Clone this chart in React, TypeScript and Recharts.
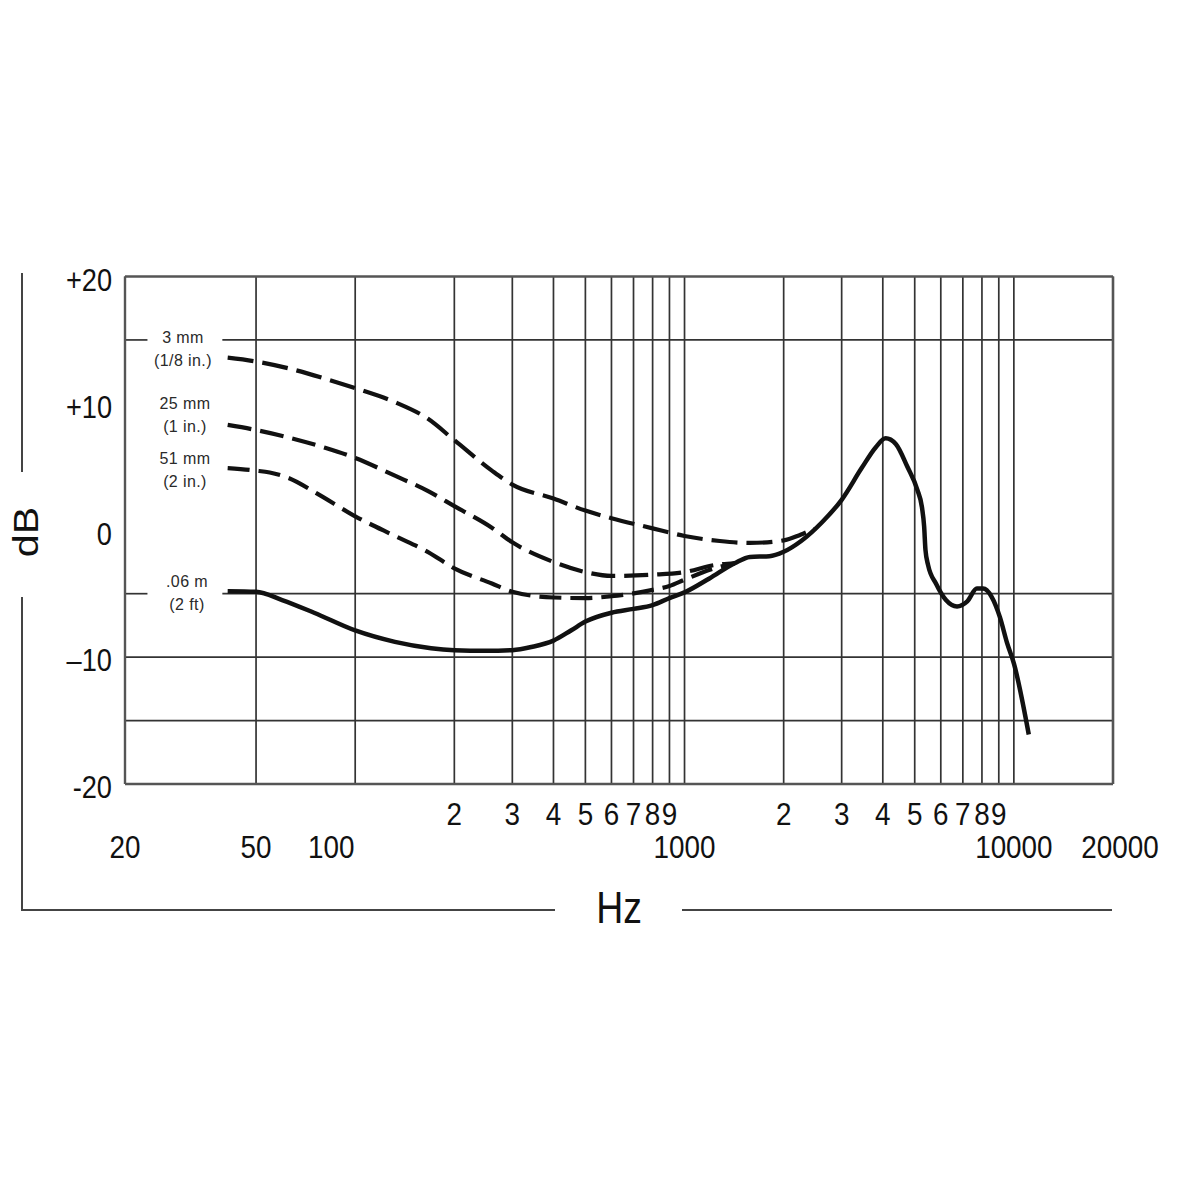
import React from "react";
import { LineChart, Line, XAxis, YAxis, CartesianGrid, ReferenceLine } from "recharts";

// ---- axis ticks ----
const X_TICKS = [20, 50, 100, 200, 300, 400, 500, 600, 700, 800, 900, 1000, 2000, 3000, 4000, 5000, 6000, 7000, 8000, 9000, 10000, 20000];
const X_TICK_TEXT = ["20", "50", "100", "2", "3", "4", "5", "6", "7", "8", "9", "1000", "2", "3", "4", "5", "6", "7", "8", "9", "10000", "20000"];
const Y_TICKS = [20, 10, 0, -10, -20];
const Y_TICK_TEXT = ["+20", "+10", "0", "\u201310", "-20"];
const H_GRID_FULL = [-10, -15];
const H_GRID_BROKEN = [15, -5];
const LABEL_GAP_HZ = [23.4, 39.5];

// ---- series: 3 mm (1/8 in.) ----
const MM3_F = [41, 50, 63, 81, 100, 132, 166, 200, 260, 300, 400, 500, 600, 800, 1000, 1280, 1580, 2000, 2250, 2500];
const MM3_DB = [13.6, 13.3, 12.75, 11.95, 11.2, 10.1, 8.8, 7.1, 4.7, 3.6, 2.5, 1.55, 0.95, 0.15, -0.45, -0.85, -1.0, -0.8, -0.35, 0.15];

// ---- series: 25 mm (1 in.) ----
const MM25_F = [41, 50, 63, 81, 100, 132, 166, 200, 260, 300, 400, 500, 600, 800, 1000, 1230, 1420];
const MM25_DB = [8.3, 7.9, 7.3, 6.5, 5.7, 4.3, 3.1, 1.9, 0.2, -0.95, -2.5, -3.3, -3.6, -3.5, -3.3, -2.75, -2.6];

// ---- series: 51 mm (2 in.) ----
const MM51_F = [41, 50, 55, 63, 76, 100, 132, 166, 200, 260, 300, 400, 500, 600, 800, 900, 1000, 1200, 1420];
const MM51_DB = [4.9, 4.7, 4.55, 4.1, 2.95, 1.1, -0.45, -1.7, -3.0, -4.2, -4.85, -5.3, -5.35, -5.2, -4.7, -4.4, -3.9, -3.1, -2.6];

// ---- series: .06 m (2 ft) ----
const FT2_F = [41, 50, 60, 75, 100, 132, 170, 200, 250, 300, 343, 400, 452, 500, 600, 700, 800, 900, 1000, 1190, 1420, 1580, 1810, 2000, 2260, 2620, 3000, 3450, 3810, 4080, 4380, 4750, 5090, 5260, 5340, 5390, 5490, 5800, 6220, 6720, 7220, 7720, 8070, 8560, 9070, 9540, 10000, 11100];
const FT2_DB = [-4.8, -4.85, -5.5, -6.5, -7.9, -8.8, -9.3, -9.45, -9.5, -9.45, -9.2, -8.7, -7.9, -7.2, -6.5, -6.2, -5.9, -5.35, -4.9, -3.8, -2.6, -2.1, -2.05, -1.7, -0.85, 0.65, 2.4, 4.9, 6.55, 7.25, 6.8, 5.0, 3.2, 1.8, 0.3, -1.55, -2.75, -4.2, -5.5, -6.0, -5.6, -4.6, -4.6, -5.25, -6.85, -8.9, -10.5, -16.1];

const CURVE_LABELS = [
  ["3 mm", "(1/8 in.)"],
  ["25 mm", "(1 in.)"],
  ["51 mm", "(2 in.)"],
  [".06 m", "(2 ft)"],
];

const toRows = (fs: number[], dbs: number[]) => fs.map((f, i) => ({ f, db: dbs[i] }));

const mm3 = toRows(MM3_F, MM3_DB);
const mm25 = toRows(MM25_F, MM25_DB);
const mm51 = toRows(MM51_F, MM51_DB);
const ft2 = toRows(FT2_F, FT2_DB);

// ---- styling ----
const FONT = "'Liberation Sans', Arial, Helvetica, sans-serif";
const GRID = "#333";
const BORDER = "#555";
const INK = "#111";
const X_LABEL_NUDGE: Record<number, number> = { 100: -24, 20000: 7 };
const CURVE_LABEL_POS = [
  { left: 175, top: 330 },
  { left: 177, top: 396 },
  { left: 177, top: 451 },
  { left: 179, top: 574 },
];

const XTick = (props: any) => {
  const { x, y, payload } = props;
  const idx = X_TICKS.indexOf(payload.value);
  if (idx < 0) return null;
  const text = X_TICK_TEXT[idx];
  const lower = text.length > 1;
  const nudge = X_LABEL_NUDGE[payload.value] ?? 0;
  return (
    <text
      transform={`translate(${x + nudge} ${y + (lower ? 62.7 : 29.5)}) scale(0.87 1)`}
      textAnchor="middle"
      dominantBaseline="central"
      fontSize={32}
      fontFamily={FONT}
      fill={INK}
    >
      {text}
    </text>
  );
};

const YTick = (props: any) => {
  const { x, y, payload } = props;
  const idx = Y_TICKS.indexOf(payload.value);
  if (idx < 0) return null;
  return (
    <text
      transform={`translate(${x - 13} ${y + 3}) scale(0.85 1)`}
      textAnchor="end"
      dominantBaseline="central"
      fontSize={32}
      fontFamily={FONT}
      fill={INK}
    >
      {Y_TICK_TEXT[idx]}
    </text>
  );
};

const line = (style: React.CSSProperties) => (
  <div style={{ position: "absolute", background: "#444", ...style }} />
);

export default function App() {
  return (
    <div style={{ position: "relative", width: 1184, height: 1000, background: "#fff" }}>
      <LineChart width={1184} height={1000} margin={{ top: 268.5, right: 79, bottom: 144, left: 0 }}>
        <CartesianGrid horizontal={false} stroke={GRID} strokeWidth={1.7} />
        <XAxis
          type="number"
          dataKey="f"
          scale="log"
          domain={[20, 20000]}
          ticks={X_TICKS}
          interval={0}
          allowDataOverflow
          axisLine={false}
          tickLine={false}
          tickSize={0}
          tickMargin={0}
          height={80}
          tick={<XTick />}
        />
        <YAxis
          type="number"
          domain={[-20, 20]}
          ticks={Y_TICKS}
          interval={0}
          allowDataOverflow
          axisLine={false}
          tickLine={false}
          tickSize={0}
          tickMargin={0}
          width={117}
          tick={<YTick />}
        />
        {H_GRID_FULL.map((v) => (
          <ReferenceLine key={`hf${v}`} y={v} stroke={GRID} strokeWidth={1.7} />
        ))}
        {H_GRID_BROKEN.map((v) => (
          <ReferenceLine
            key={`hb1${v}`}
            segment={[{ x: 20, y: v }, { x: LABEL_GAP_HZ[0], y: v }]}
            stroke={GRID}
            strokeWidth={1.7}
          />
        ))}
        {H_GRID_BROKEN.map((v) => (
          <ReferenceLine
            key={`hb2${v}`}
            segment={[{ x: LABEL_GAP_HZ[1], y: v }, { x: 20000, y: v }]}
            stroke={GRID}
            strokeWidth={1.7}
          />
        ))}
        <ReferenceLine y={20} stroke={BORDER} strokeWidth={2.4} />
        <ReferenceLine y={-20} stroke={BORDER} strokeWidth={2.4} />
        <ReferenceLine x={20} stroke={BORDER} strokeWidth={2.4} />
        <ReferenceLine x={20000} stroke={BORDER} strokeWidth={2.6} />
        <Line data={mm3} dataKey="db" type="monotone" stroke={INK} strokeWidth={4.2} strokeDasharray="26 9" dot={false} isAnimationActive={false} />
        <Line data={mm25} dataKey="db" type="monotone" stroke={INK} strokeWidth={4.2} strokeDasharray="24 9" dot={false} isAnimationActive={false} />
        <Line data={mm51} dataKey="db" type="monotone" stroke={INK} strokeWidth={4.2} strokeDasharray="22 9" dot={false} isAnimationActive={false} />
        <Line data={ft2} dataKey="db" type="monotone" stroke={INK} strokeWidth={4.5} dot={false} isAnimationActive={false} />
      </LineChart>

      {/* frame lines around the axes */}
      {line({ left: 13, top: 265, width: 2, height: 199 })}
      {line({ left: 13, top: 589, width: 2, height: 314 })}
      {line({ left: 13, top: 901, width: 534, height: 2 })}
      {line({ left: 674, top: 901, width: 430, height: 2 })}

      <div
        style={{
          position: "absolute",
          left: 16.5,
          top: 524,
          transform: "translate(-50%, -50%) rotate(-90deg) scaleX(1.18)",
          fontFamily: FONT,
          fontSize: 35,
          lineHeight: 1,
          color: INK,
          whiteSpace: "nowrap",
        }}
      >
        dB
      </div>
      <div
        style={{
          position: "absolute",
          left: 611,
          top: 899.5,
          transform: "translate(-50%, -50%) scaleX(0.85)",
          fontFamily: FONT,
          fontSize: 44,
          lineHeight: 1,
          color: INK,
          whiteSpace: "nowrap",
        }}
      >
        Hz
      </div>

      {CURVE_LABELS.map((pair, i) => (
        <div
          key={pair[0]}
          style={{
            position: "absolute",
            left: CURVE_LABEL_POS[i].left,
            top: CURVE_LABEL_POS[i].top,
            transform: "translate(-50%, -9px)",
            fontFamily: FONT,
            fontSize: 16,
            lineHeight: "23px",
            letterSpacing: 0.4,
            color: "#2a2a2a",
            textAlign: "center",
            whiteSpace: "nowrap",
            marginTop: -3,
          }}
        >
          <div>{pair[0]}</div>
          <div>{pair[1]}</div>
        </div>
      ))}
    </div>
  );
}
